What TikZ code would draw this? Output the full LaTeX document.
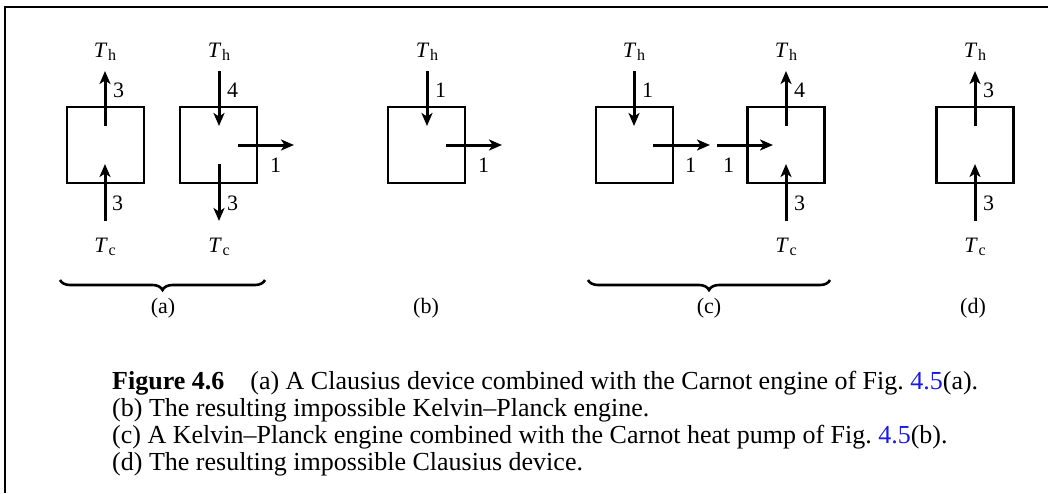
\documentclass[tikz,border=0pt]{standalone}
\usepackage{fontspec}
\setmainfont{Liberation Serif}
\usetikzlibrary{arrows.meta,decorations.pathreplacing}
\definecolor{refblue}{RGB}{25,25,235}
\newcommand{\Th}{\textit{T}\kern0.03em\raisebox{-0.28ex}{\fontsize{16}{16}\selectfont h}}
\newcommand{\Tc}{\textit{T}\kern0.03em\raisebox{-0.28ex}{\fontsize{16}{16}\selectfont c}}
\begin{document}
\begin{tikzpicture}[x=1pt,y=-1pt,
  engine/.style={draw, line width=2.1pt, minimum width=77pt, minimum height=76pt, inner sep=0pt},
  flow/.style={line width=3pt, -{Stealth[length=13pt,width=11pt,inset=3.5pt]}},
  num/.style={font=\fontsize{22}{22}\selectfont, inner sep=0pt, anchor=west},
  temp/.style={font=\fontsize{22}{22}\selectfont, inner sep=0pt},
  lab/.style={font=\fontsize{22}{22}\selectfont, inner sep=0pt},
  grp/.style={line width=2.6pt, decorate, decoration={brace, mirror, amplitude=10pt}},
  frame/.style={line width=1.3pt}]
\useasboundingbox (0,0) rectangle (1048,493);
% frame
\coordinate (ftr) at (1048,7);
\coordinate (ftl) at (5,7);
\coordinate (fbl) at (5,493);
\draw[frame] (ftr) -- (ftl) -- (fbl);

% ---------- (a) left: heat pump 3 -> 3
\node[engine] (A1) at (105.5,145) {};
\node[temp] (A1h) at (105,52) {\Th};
\node[temp] (A1c) at (105,247) {\Tc};
\coordinate (A1ti) at (105,126); \coordinate (A1to) at (105,71);
\coordinate (A1bo) at (105,221); \coordinate (A1bi) at (105,164);
\draw[flow] (A1ti) -- (A1to);
\draw[flow] (A1bo) -- (A1bi);
\node[num] (A1n1) at (113,90) {3};
\node[num] (A1n2) at (112,203) {3};

% ---------- (a) right: engine 4 -> 1 + 3
\node[engine] (A2) at (218.5,145) {};
\node[temp] (A2h) at (219,52) {\Th};
\node[temp] (A2c) at (219,247) {\Tc};
\coordinate (A2to) at (219,71); \coordinate (A2ti) at (219,126);
\coordinate (A2bi) at (219,164); \coordinate (A2bo) at (219,221);
\coordinate (A2ri) at (238,145); \coordinate (A2ro) at (294,145);
\draw[flow] (A2to) -- (A2ti);
\draw[flow] (A2bi) -- (A2bo);
\draw[flow] (A2ri) -- (A2ro);
\node[num] (A2n1) at (227,90) {4};
\node[num] (A2n2) at (227,203) {3};
\node[num] (A2n3) at (270,165) {1};

\coordinate (Bra) at (60,280); \coordinate (Brb) at (265,280);
\draw[grp] (Bra) -- (Brb);
\node[lab] (La) at (163,308) {(a)};

% ---------- (b)
\node[engine] (B) at (426.5,145) {};
\node[temp] (Bh) at (427,52) {\Th};
\coordinate (Bto) at (427,71); \coordinate (Bti) at (427,126);
\coordinate (Bri) at (446,145); \coordinate (Bro) at (502,145);
\draw[flow] (Bto) -- (Bti);
\draw[flow] (Bri) -- (Bro);
\node[num] (Bn1) at (435,90) {1};
\node[num] (Bn2) at (478,165) {1};
\node[lab] (Lb) at (426,308) {(b)};

% ---------- (c) left: engine 1 -> 1
\node[engine] (C1) at (634.5,145) {};
\node[temp] (C1h) at (634,52) {\Th};
\coordinate (C1to) at (634,71); \coordinate (C1ti) at (634,126);
\coordinate (C1ri) at (653,145); \coordinate (C1ro) at (710,145);
\draw[flow] (C1to) -- (C1ti);
\draw[flow] (C1ri) -- (C1ro);
\node[num] (C1n1) at (642,90) {1};
\node[num] (C1n2) at (685,165) {1};

% ---------- (c) right: heat pump 1 + 3 -> 4
\node[engine] (C2) at (786,145) {};
\node[temp] (C2h) at (786,52) {\Th};
\node[temp] (C2c) at (786,247) {\Tc};
\coordinate (C2li) at (717,145); \coordinate (C2lo) at (773,145);
\coordinate (C2ti) at (786,126); \coordinate (C2to) at (786,71);
\coordinate (C2bo) at (786,221); \coordinate (C2bi) at (786,164);
\draw[flow] (C2li) -- (C2lo);
\draw[flow] (C2ti) -- (C2to);
\draw[flow] (C2bo) -- (C2bi);
\node[num] (C2n1) at (723,165) {1};
\node[num] (C2n2) at (794,90) {4};
\node[num] (C2n3) at (794,203) {3};

\coordinate (Brc) at (588,280); \coordinate (Brd) at (830,280);
\draw[grp] (Brc) -- (Brd);
\node[lab] (Lc) at (709,308) {(c)};

% ---------- (d)
\node[engine] (D) at (975,145) {};
\node[temp] (Dh) at (975,52) {\Th};
\node[temp] (Dc) at (975,247) {\Tc};
\coordinate (Dti) at (975,126); \coordinate (Dto) at (975,71);
\coordinate (Dbo) at (975,221); \coordinate (Dbi) at (975,164);
\draw[flow] (Dti) -- (Dto);
\draw[flow] (Dbo) -- (Dbi);
\node[num] (Dn1) at (983,90) {3};
\node[num] (Dn2) at (983,203) {3};
\node[lab] (Ld) at (973,308) {(d)};

% ---------- caption (anchored at the baseline of its last line)
\node[anchor=base west, inner sep=0pt, align=left,
      font=\fontsize{26}{27}\selectfont] (cap) at (112,470)
  {\textbf{Figure 4.6}\quad (a) A Clausius device combined with the Carnot engine of Fig.~\textcolor{refblue}{4.5}(a).\\
   (b) The resulting impossible Kelvin--Planck engine.\\
   (c) A Kelvin--Planck engine combined with the Carnot heat pump of Fig.~\textcolor{refblue}{4.5}(b).\\
   (d) The resulting impossible Clausius device.};
\end{tikzpicture}
\end{document}
